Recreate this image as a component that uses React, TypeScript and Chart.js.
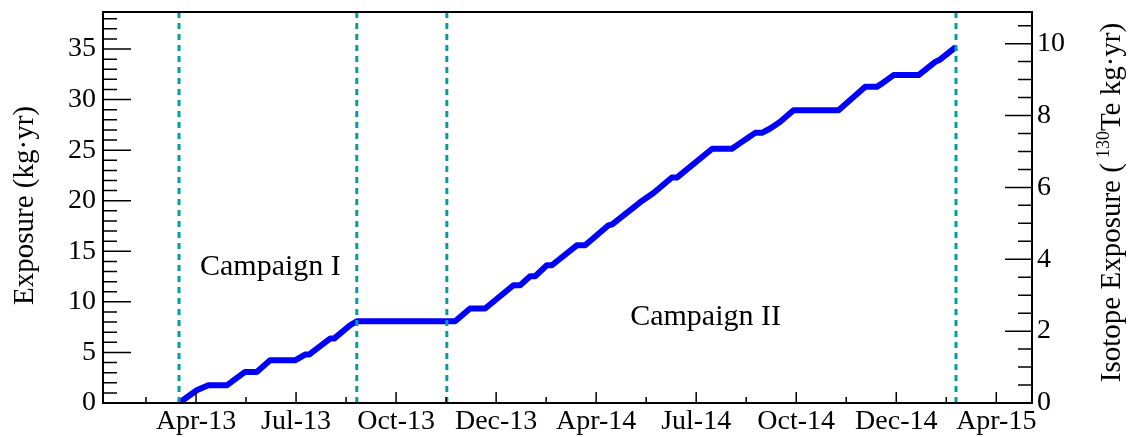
import React, { useEffect, useRef } from 'react';
import { Chart, registerables } from 'chart.js';

Chart.register(...registerables);

// x axis is expressed in "label intervals": 0 = Apr-13, 1 = Jul-13, ... 8 = Apr-15
const xTickLabels = ['Apr-13', 'Jul-13', 'Oct-13', 'Dec-13', 'Apr-14', 'Jul-14', 'Oct-14', 'Dec-14', 'Apr-15'];
const xMajorTicks = [0, 1, 2, 3, 4, 5, 6, 7, 8];
const xMinorTicks = [-0.5, 0.5, 1.5, 2.5, 3.5, 4.5, 5.5, 6.5, 7.5];
const xRange = [-0.93, 8.357];

const timePoints = [
  -0.17, 0.007, 0.123, 0.307, 0.49, 0.607, 0.74, 0.99, 1.09, 1.13,
  1.34, 1.38, 1.54, 1.607, 2.59, 2.74, 2.89, 3.173, 3.24, 3.34,
  3.39, 3.507, 3.557, 3.807, 3.89, 4.123, 4.16, 4.423, 4.46, 4.573,
  4.757, 4.807, 5.16, 5.357, 5.457, 5.507, 5.59, 5.657, 5.74, 5.84,
  5.973, 6.423, 6.69, 6.807, 6.857, 6.973, 7.223, 7.39, 7.44, 7.597,
];
const exposure = [
  0, 1.26, 1.75, 1.75, 3.07, 3.07, 4.22, 4.22, 4.79, 4.79,
  6.37, 6.37, 7.69, 8.08, 8.08, 9.34, 9.34, 11.64, 11.64, 12.53,
  12.53, 13.62, 13.62, 15.59, 15.59, 17.57, 17.67, 19.72, 20.0, 20.77,
  22.29, 22.29, 25.14, 25.14, 25.82, 26.15, 26.71, 26.71, 27.14, 27.8,
  28.95, 28.95, 31.26, 31.26, 31.6, 32.42, 32.42, 33.73, 33.97, 35.21,
];

const campaignBoundaries = [-0.17, 1.607, 2.507, 7.597];
const campaignLabels = ['Campaign I', 'Campaign II'];
const campaignLabelX = [0.04, 4.34];
const campaignLabelY = [12.64, 7.69];

const leftTicks = [0, 5, 10, 15, 20, 25, 30, 35];
const leftMax = 38.66;
const rightTicks = [0, 2, 4, 6, 8, 10];
const rightMax = 10.88;

const SERIF = '"Liberation Serif", "DejaVu Serif", serif';

const framePlugin = {
  id: 'rootFrame',
  afterDraw(chart: any) {
    const { ctx, chartArea } = chart;
    const { left, right, top, bottom } = chartArea;
    const xs = chart.scales.x;
    const yl = chart.scales.y;
    const yr = chart.scales.y2;
    ctx.save();
    ctx.strokeStyle = '#000';
    ctx.lineWidth = 1.5;
    ctx.beginPath();
    for (let v = 0; v <= leftMax; v += 1) {
      const p = yl.getPixelForValue(v);
      const major = leftTicks.includes(v);
      ctx.moveTo(left, p);
      ctx.lineTo(left + (major ? 28 : 14), p);
    }
    for (let v = 0; v <= rightMax; v += 0.5) {
      const p = yr.getPixelForValue(v);
      const major = rightTicks.includes(v);
      ctx.moveTo(right, p);
      ctx.lineTo(right - (major ? 27 : 14), p);
    }
    xMajorTicks.forEach((v) => {
      const p = xs.getPixelForValue(v);
      ctx.moveTo(p, bottom);
      ctx.lineTo(p, bottom - 11);
    });
    xMinorTicks.forEach((v) => {
      const p = xs.getPixelForValue(v);
      ctx.moveTo(p, bottom);
      ctx.lineTo(p, bottom - 6);
    });
    ctx.stroke();

    ctx.lineWidth = 2;
    ctx.strokeRect(left, top, right - left, bottom - top);

    ctx.fillStyle = '#000';
    ctx.font = `30px ${SERIF}`;
    ctx.textAlign = 'left';
    ctx.textBaseline = 'alphabetic';
    campaignLabels.forEach((t, i) => {
      ctx.fillText(t, xs.getPixelForValue(campaignLabelX[i]), yl.getPixelForValue(campaignLabelY[i]));
    });

    const cy = (top + bottom) / 2;
    ctx.save();
    ctx.translate(33, cy - 2);
    ctx.rotate(-Math.PI / 2);
    ctx.font = `29px ${SERIF}`;
    ctx.textAlign = 'center';
    ctx.fillText('Exposure (kg\u00B7yr)', 0, 0);
    ctx.restore();

    ctx.save();
    ctx.translate(1120, cy - 5);
    ctx.rotate(-Math.PI / 2);
    ctx.textAlign = 'left';
    const big = `29px ${SERIF}`;
    const small = `18px ${SERIF}`;
    const p1 = 'Isotope Exposure (';
    const sup = '130';
    const p2 = 'Te kg\u00B7yr)';
    ctx.font = big;
    const w1 = ctx.measureText(p1).width;
    const w3 = ctx.measureText(p2).width;
    ctx.font = small;
    const w2 = ctx.measureText(sup).width;
    const gap = 5;
    const total = w1 + gap + w2 + w3;
    let x = -total / 2;
    ctx.font = big;
    ctx.fillText(p1, x, 0);
    x += w1 + gap;
    ctx.font = small;
    ctx.fillText(sup, x, -11);
    x += w2;
    ctx.font = big;
    ctx.fillText(p2, x, 0);
    ctx.restore();

    ctx.restore();
  },
};

const noPad = (s: any) => {
  s.paddingTop = 0;
  s.paddingBottom = 0;
  s.paddingLeft = 0;
  s.paddingRight = 0;
};

export default function App() {
  const ref = useRef<HTMLCanvasElement | null>(null);
  useEffect(() => {
    if (!ref.current) return;
    const lineData = timePoints.map((t, i) => ({ x: t, y: exposure[i] }));
    const boundaryDatasets = campaignBoundaries.map((b) => ({
      label: 'boundary',
      data: [{ x: b, y: 0 }, { x: b, y: leftMax }],
      borderColor: '#00a0a0',
      borderWidth: 3,
      borderDash: [6, 5],
      pointRadius: 0,
      order: 0,
      yAxisID: 'y',
    }));
    const chart = new Chart(ref.current, {
      type: 'line',
      data: {
        datasets: [
          ...boundaryDatasets,
          {
            label: 'Exposure',
            data: lineData,
            borderColor: '#0000ff',
            borderWidth: 6,
            pointRadius: 0,
            tension: 0,
            borderJoinStyle: 'round',
            order: 1,
            yAxisID: 'y',
          },
        ] as any,
      },
      options: {
        animation: false,
        responsive: false,
        devicePixelRatio: 1,
        layout: { padding: { top: 12, left: 0, right: 0, bottom: 0 } },
        plugins: { legend: { display: false }, tooltip: { enabled: false } },
        scales: {
          x: {
            type: 'linear',
            min: xRange[0],
            max: xRange[1],
            grid: { display: false },
            border: { display: false },
            afterFit: (s: any) => { s.height = 34; noPad(s); },
            afterBuildTicks: (s: any) => { s.ticks = xMajorTicks.map((v) => ({ value: v })); },
            ticks: {
              autoSkip: false,
              maxRotation: 0,
              padding: -6,
              color: '#000',
              font: { family: SERIF, size: 28 },
              callback: (v: any) => {
                const i = xMajorTicks.indexOf(Number(v));
                return i >= 0 ? xTickLabels[i] : '';
              },
            },
          },
          y: {
            type: 'linear',
            position: 'left',
            min: 0,
            max: leftMax,
            grid: { display: false },
            border: { display: false },
            afterFit: (s: any) => { s.width = 103; noPad(s); },
            afterBuildTicks: (s: any) => { s.ticks = leftTicks.map((v) => ({ value: v })); },
            ticks: { padding: -1, color: '#000', font: { family: SERIF, size: 28 } },
          },
          y2: {
            type: 'linear',
            position: 'right',
            min: 0,
            max: rightMax,
            grid: { display: false },
            border: { display: false },
            afterFit: (s: any) => { s.width = 100; noPad(s); },
            afterBuildTicks: (s: any) => { s.ticks = rightTicks.map((v) => ({ value: v })); },
            ticks: { padding: -3, color: '#000', font: { family: SERIF, size: 28 } },
          },
        },
      },
      plugins: [framePlugin],
    });
    return () => chart.destroy();
  }, []);
  return (
    <div style={{ position: 'absolute', left: 0, top: 0, width: 1132, height: 437, background: '#fff' }}>
      <canvas ref={ref} width={1132} height={437} style={{ width: 1132, height: 437 }} />
    </div>
  );
}
